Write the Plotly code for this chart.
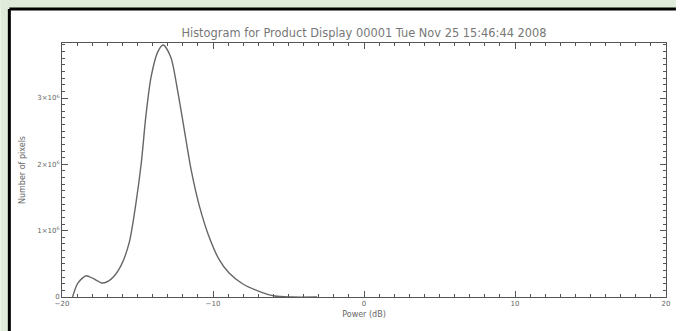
import plotly.graph_objects as go

# Data
power_db = [-19.3, -18.95, -18.4, -17.95, -17.3, -16.75, -16.1, -15.55, -15.1,
            -14.75, -14.45, -14.1, -13.65, -13.3, -12.8, -12.35, -11.9, -11.45,
            -10.9, -10.25, -9.6, -8.95, -8.05, -7.0, -5.9, -4.8, -3.1]
num_pixels = [0, 0.21e6, 0.32e6, 0.28e6, 0.21e6, 0.27e6, 0.47e6, 0.82e6, 1.42e6,
              2.02e6, 2.72e6, 3.32e6, 3.70e6, 3.80e6, 3.62e6, 3.12e6, 2.52e6, 1.92e6,
              1.37e6, 0.90e6, 0.567e6, 0.365e6, 0.20e6, 0.09e6, 0.015e6, 0.0, 0.0]

x_tickvals = [-20, -10, 0, 10, 20]
x_ticktext = ["\u221220", "\u221210", "0", "10", "20"]
y_tickvals = [0, 1e6, 2e6, 3e6]
y_ticktext = ["0", "1\u00d710<sup>6</sup>", "2\u00d710<sup>6</sup>", "3\u00d710<sup>6</sup>"]

title_text = "Histogram for Product Display 00001 Tue Nov 25 15:46:44 2008"

W, H = 680, 331
L, R, T, B = 62, 10, 43, 34
pw, ph = W - L - R, H - T - B

def px(X):
    return (X - L) / pw

def py(Y):
    return (H - B - Y) / ph

ink = "#555555"
green = "#dfeadb"
font_family = "DejaVu Sans, sans-serif"

fig = go.Figure()
fig.add_trace(go.Scatter(
    x=power_db, y=num_pixels, mode="lines",
    line=dict(color="#666666", width=1.4, shape="spline", smoothing=0.8),
    showlegend=False, hoverinfo="skip"))

axis_common = dict(
    showline=True, linecolor=ink, linewidth=1, mirror="ticks",
    ticks="inside", ticklen=6, tickcolor=ink, tickwidth=1,
    showgrid=False, zeroline=False,
    tickfont=dict(family=font_family, size=7, color="#666666"),
)

fig.update_layout(
    width=W, height=H,
    margin=dict(l=L, r=R, t=T, b=B, pad=0),
    paper_bgcolor="white",
    plot_bgcolor="white",
    title=dict(text=title_text, x=0.5, xref="paper", y=1 - 33 / H, yref="container",
               xanchor="center", yanchor="middle",
               font=dict(family=font_family, size=11.4, color="#777777")),
    xaxis=dict(range=[-20, 20], tickvals=x_tickvals, ticktext=x_ticktext,
               minor=dict(ticks="inside", ticklen=3, tickcolor=ink, dtick=1, showgrid=False),
               title=dict(text="Power (dB)", standoff=3,
                          font=dict(family=font_family, size=8, color="#666666")),
               **axis_common),
    yaxis=dict(range=[0, 3.83e6], tickvals=y_tickvals, ticktext=y_ticktext,
               minor=dict(ticks="inside", ticklen=3, tickcolor=ink, dtick=1e5, showgrid=False),
               title=dict(text="Number of pixels", standoff=10,
                          font=dict(family=font_family, size=8, color="#666666")),
               **axis_common),
    shapes=[
        dict(type="rect", xref="paper", yref="paper",
             x0=px(0), x1=px(8), y0=py(H), y1=py(0),
             fillcolor=green, line=dict(width=0), layer="below"),
        dict(type="rect", xref="paper", yref="paper",
             x0=px(0), x1=px(W), y0=py(8), y1=py(0),
             fillcolor=green, line=dict(width=0), layer="below"),
        dict(type="line", xref="paper", yref="paper",
             x0=px(9), x1=px(W), y0=py(9), y1=py(9),
             line=dict(color="black", width=3), layer="below"),
        dict(type="line", xref="paper", yref="paper",
             x0=px(9), x1=px(9), y0=py(H), y1=py(9),
             line=dict(color="black", width=3), layer="below"),
    ],
)

page_js = ("document.documentElement.style.margin='0';"
           "document.documentElement.style.overflow='hidden';"
           "document.body.style.margin='0';document.body.style.padding='0';"
           "document.body.style.overflow='hidden';")

fig.write_html("out.html", post_script=page_js, config={"displayModeBar": False})
